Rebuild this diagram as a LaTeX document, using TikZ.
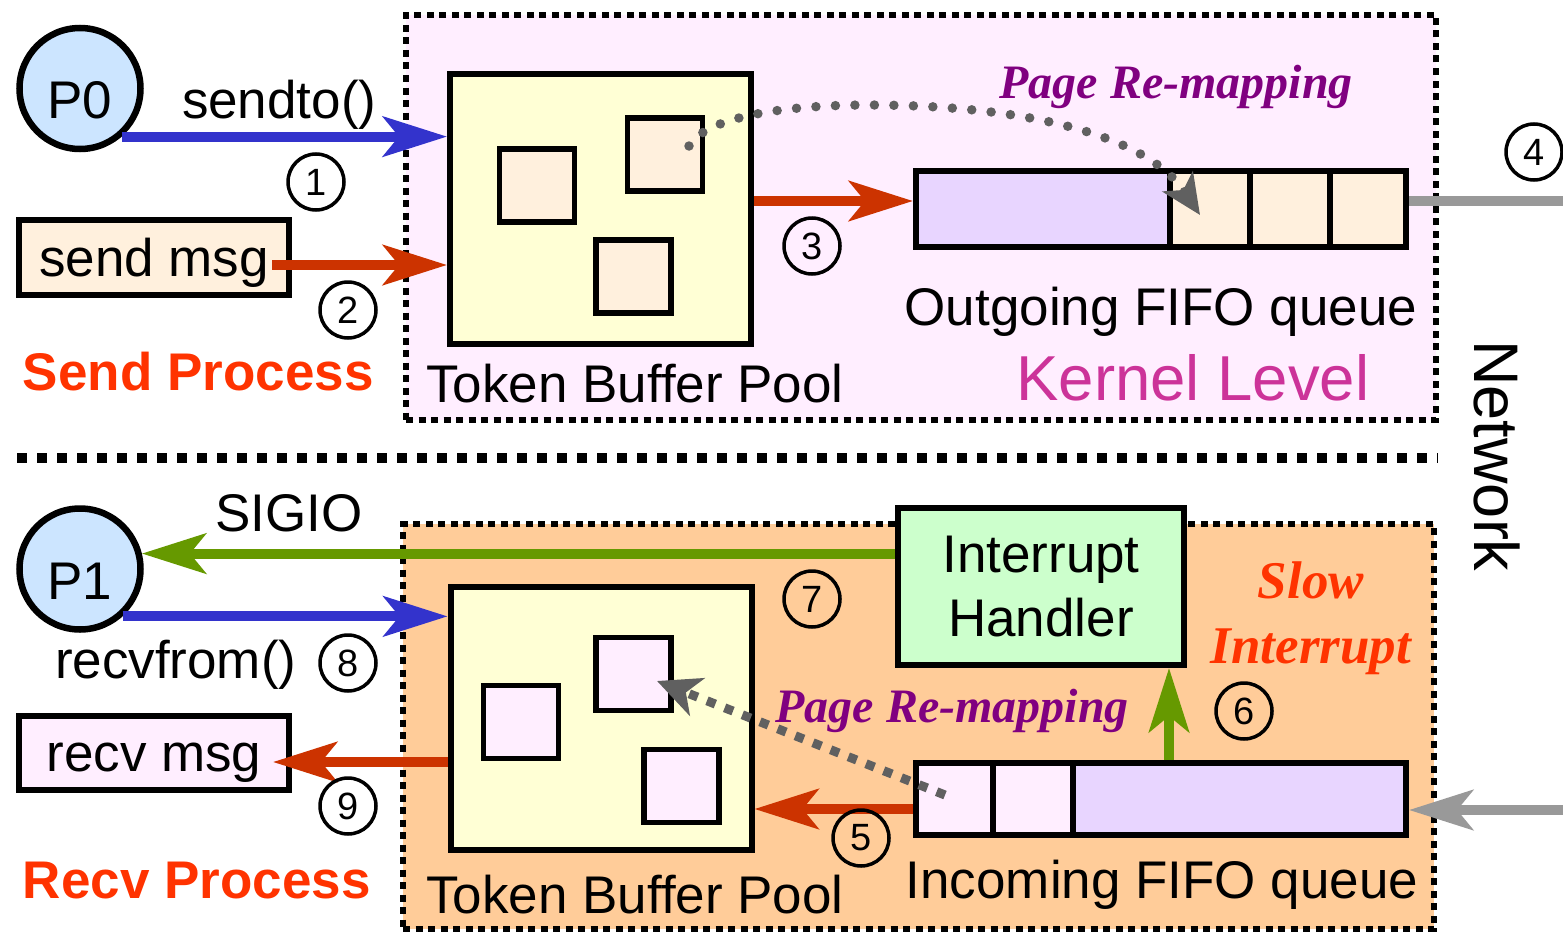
\documentclass[tikz,border=0pt]{standalone}
\usepackage{fontspec}
\setmainfont{Liberation Sans}
\newfontfamily\tnr{Liberation Serif}
\usetikzlibrary{arrows.meta}
\definecolor{cblue}{HTML}{3333CC}
\definecolor{cred}{HTML}{CC3300}
\definecolor{cgreen}{HTML}{669900}
\definecolor{cgrey}{HTML}{999999}
\definecolor{cdots}{HTML}{606060}
\definecolor{ctoken}{HTML}{FFFFD5}
\definecolor{cbeige}{HTML}{FFF0DD}
\definecolor{cpink}{HTML}{FFEEFF}
\definecolor{clav}{HTML}{E8D5FF}
\definecolor{cproc}{HTML}{CCE5FF}
\definecolor{cpeach}{HTML}{FFCC99}
\definecolor{cmint}{HTML}{CCFFCC}
\definecolor{corange}{HTML}{FF3300}
\definecolor{cmag}{HTML}{CC3399}
\definecolor{cpurple}{HTML}{800080}
\newcommand\fsz[2]{\fontsize{#1}{#2}\selectfont}
\begin{document}
\begin{tikzpicture}[x=1pt,y=-1pt,
  every node/.style={inner sep=0pt,outer sep=auto},
  region/.style={draw,rectangle,line width=6.5pt,dash pattern=on 7pt off 5.5pt},
  sepline/.style={line width=10pt,dash pattern=on 10pt off 10pt},
  box/.style={draw,rectangle,line width=6pt},
  sqr/.style={draw,rectangle,line width=5.5pt,minimum width=75pt,minimum height=73pt},
  proc/.style={circle,draw,line width=6.5pt,fill=cproc,minimum size=121pt,font=\fsz{53}{64},text height=60pt,text depth=0pt},
  numc/.style={circle,draw,line width=3.5pt,minimum size=56pt,font=\fsz{38}{40}},
  lbl/.style={font=\fsz{53}{64}},
  pr/.style={font=\fsz{53}{64}\bfseries,text=corange},
  remap/.style={font=\fsz{48}{56}\tnr\bfseries\itshape,text=cpurple},
  arr/.style={line width=10pt,-{Stealth[length=64pt,width=40pt,inset=16pt]}},
  dotsline/.style={cdots,line width=9.5pt,line cap=round,dash pattern=on 0pt off 19.5pt,-{Stealth[length=40pt,width=36pt,inset=10pt]}},
  dashline/.style={cdots,line width=9pt,dash pattern=on 9pt off 10pt,-{Stealth[length=43pt,width=40pt,inset=12pt]}}
]
\useasboundingbox (0,0) rectangle (1563,934);
% regions
\node[region,fill=cpink,minimum width=1030pt,minimum height=405pt] (kern) at (921,217.5) {};
\node[region,fill=cpeach,minimum width=1031pt,minimum height=405pt] (recvreg) at (918.5,726.5) {};
\draw[sepline] (17,458) -- (1438,458);
% ---------- send side ----------
\node[box,fill=ctoken,minimum width=301pt,minimum height=270pt] (tbp1) at (600.5,209) {};
\node[sqr,fill=cbeige] (s1a) at (537,185.5) {};
\node[sqr,fill=cbeige] (s1b) at (665,154.5) {};
\node[sqr,fill=cbeige] (s1c) at (633.5,276.5) {};
\node[box,fill=clav,minimum width=254pt,minimum height=76pt] (oc0) at (1043,209) {};
\node[box,fill=cbeige,minimum width=80pt,minimum height=76pt] (oc1) at (1210,209) {};
\node[box,fill=cbeige,minimum width=80pt,minimum height=76pt] (oc2) at (1290,209) {};
\node[box,fill=cbeige,minimum width=76pt,minimum height=76pt] (oc3) at (1368,209) {};
\node[proc] (p0) at (80,88.5) {P0};
\node[box,fill=cbeige,minimum width=270pt,minimum height=75pt,lbl,text height=37pt,text depth=0pt] (smsg) at (154,257.5) {send msg};
% arrows send side
\draw[arr,cblue] (p0.-49.2) -- (p0.-49.2 -| tbp1.west);
\coordinate (a2) at ([shift={(-20pt,-7.5pt)}]smsg.east);
\draw[arr,cred] (a2) -- (a2 -| tbp1.west);
\draw[arr,cred] ([yshift=8pt]tbp1.east) -- ([yshift=8pt]oc0.west);
\coordinate (net1) at (1563,201);
\draw[line width=10pt,cgrey] ([yshift=8pt]oc3.east) -- (net1);
\coordinate (rm1s) at (689,146);
\coordinate (rm1e) at (1200,215);
\draw[dotsline] (rm1s) .. controls (705,118) and (780,105) .. (868,105) .. controls (1040,105) and (1150,140) .. (rm1e);
% ---------- receive side ----------
\node[box,fill=ctoken,minimum width=301pt,minimum height=263pt] (tbp2) at (601,718.5) {};
\node[sqr,fill=cpink] (s2a) at (521,722) {};
\node[sqr,fill=cpink] (s2b) at (633.5,674) {};
\node[sqr,fill=cpink] (s2c) at (681.5,786) {};
\node[box,fill=cmint,minimum width=286pt,minimum height=157pt,lbl,align=center] (ih) at (1041,586.5) {Interrupt\\Handler};
\node[box,fill=cpink,minimum width=77pt,minimum height=72pt] (ic1) at (954.5,799) {};
\node[box,fill=cpink,minimum width=80pt,minimum height=72pt] (ic2) at (1033,799) {};
\node[box,fill=clav,minimum width=333pt,minimum height=72pt] (ic3) at (1239.5,799) {};
\node[proc] (p1) at (80,569) {P1};
\node[box,fill=cpink,minimum width=270pt,minimum height=74.5pt,lbl,text height=37pt,text depth=0pt] (rmsg) at (154,753) {recv msg};
% arrows receive side
\draw[arr,cgreen] (p1.14.5 -| ih.west) -- (p1.14.5);
\draw[arr,cblue] (p1.-48.6) -- (p1.-48.6 -| tbp2.west);
\coordinate (a9) at ([shift={(-19pt,-9pt)}]rmsg.east);
\draw[arr,cred] (a9 -| tbp2.west) -- (a9);
\coordinate (a5) at ([yshift=-10pt]ic1.west);
\draw[arr,cred] (a5) -- (a5 -| tbp2.east);
\coordinate (net2) at (1563,810);
\draw[arr,cgrey] (net2) -- ([yshift=-11pt]ic3.east);
\coordinate (g6) at (1169,700);
\draw[arr,cgreen] (ic3.north -| g6) -- (ih.south -| g6);
\coordinate (rm2s) at (945,795);
\coordinate (rm2e) at (657,681);
\draw[dashline] (rm2s) -- (rm2e);
% numbered circles
\node[numc] (n1) at (316,182) {1};
\node[numc] (n2) at (348,310) {2};
\node[numc] (n3) at (812,246) {3};
\node[numc] (n4) at (1534,152) {4};
\node[numc] (n5) at (861,838) {5};
\node[numc] (n6) at (1244,711) {6};
\node[numc] (n7) at (812,599) {7};
\node[numc] (n8) at (348,663) {8};
\node[numc] (n9) at (348,806) {9};
% labels
\node[lbl,anchor=base west] (tsend) at (182,118) {sendto()};
\node[pr,anchor=base west] (tsp) at (23,390) {Send Process};
\node[lbl,anchor=base] (ttbp1) at (635,402) {Token Buffer Pool};
\node[lbl,anchor=base] (toq) at (1161,325) {Outgoing FIFO queue};
\node[font=\fsz{63.5}{70},text=cmag,anchor=base] (tkl) at (1193,400) {Kernel Level};
\node[remap,anchor=base] (trm1) at (1176,98) {Page Re-mapping};
\node[lbl,anchor=base west] (tsig) at (215,531) {SIGIO};
\node[lbl,anchor=base west] (trf) at (55,678) {recvfrom()};
\node[pr,anchor=base west] (trp) at (23,898) {Recv Process};
\node[lbl,anchor=base] (ttbp2) at (635,913) {Token Buffer Pool};
\node[lbl,anchor=base] (tiq) at (1162,898) {Incoming FIFO queue};
\node[remap,anchor=base] (trm2) at (952,722) {Page Re-mapping};
\node[font=\fsz{53}{65}\tnr\bfseries\itshape,text=corange,align=center] (tslow) at (1311,618) {Slow\\Interrupt};
\node[font=\fsz{63}{70},rotate=-90] (tnet) at (1497,456) {Network};
\end{tikzpicture}
\end{document}
